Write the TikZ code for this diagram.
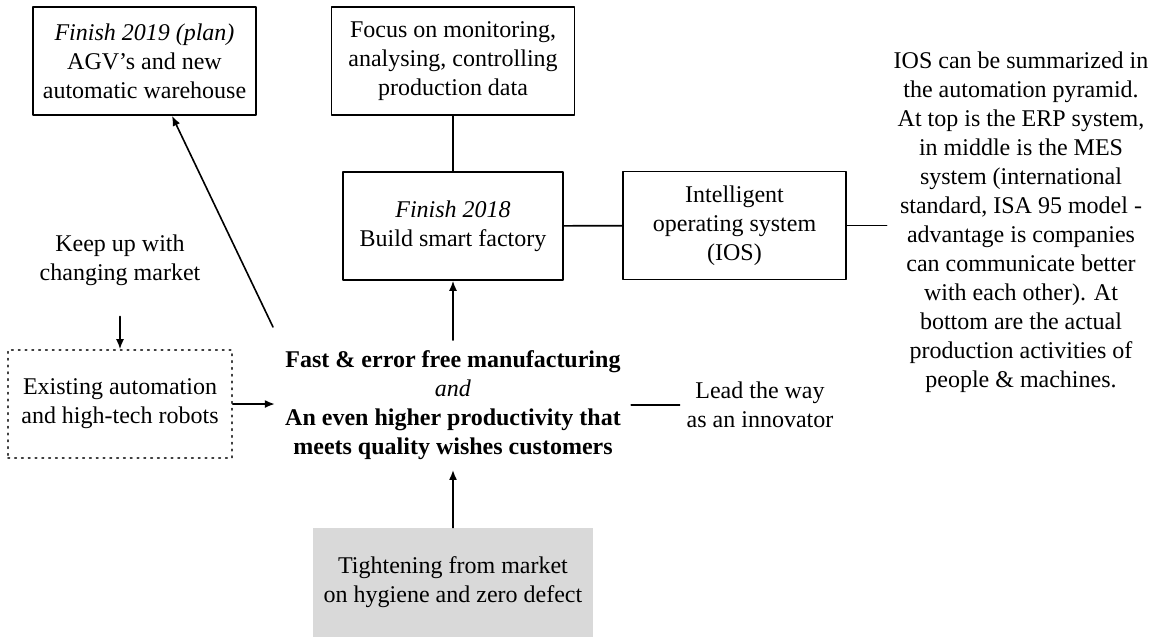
\documentclass[tikz,border=0pt]{standalone}
\usepackage{fontspec}
\setmainfont{Liberation Serif}
\usetikzlibrary{arrows.meta, calc}

\tikzset{
	box/.style={draw, line width=0.8pt, align=center, inner sep=0pt, minimum height=54pt},
	dotbox/.style={draw=black!75, line width=0.8pt, dash pattern=on 0.8pt off 2.6pt,
		align=center, inner sep=0pt, minimum width=112pt, minimum height=54pt},
	graybox/.style={fill=black!15, align=center, inner sep=0pt,
		minimum width=140pt, minimum height=54.5pt},
	plain/.style={align=center},
	link/.style={line width=0.8pt}
}

\begin{document}
\begin{tikzpicture}[x=0.5pt, y=-0.5pt, >={Latex[length=5pt,width=4pt]},
	line cap=round, line join=round, font={\fontsize{12}{14.5}\selectfont}]
	
	\useasboundingbox (0,0) rectangle (1160,639);
	
	%========================
	% Top row: plans
	%========================
	\node[box, minimum width=111.5pt] (plan) at (144.5,61)
	{\textit{Finish 2019 (plan)}\\AGV's and new\\automatic warehouse};
	\node[box, minimum width=121.5pt] (focus) at (453,61)
	{Focus on monitoring,\\analysing, controlling\\production data};
	
	%========================
	% Middle row: smart factory and IOS
	%========================
	\node[box, minimum width=110pt] (smart) at (453,226)
	{\textit{Finish 2018}\\Build smart factory};
	\node[box, minimum width=111.5pt] (ios) at (734.5,225.5)
	{Intelligent\\operating system\\(IOS)};
	\node[plain] (iosnote) at (1021,222.5)
	{IOS can be summarized in\\the automation pyramid.\\At top is the ERP system,\\
		in middle is the MES\\system (international\\standard, ISA 95 model -\\
		advantage is companies\\can communicate better\\with each other). At\\
		bottom are the actual\\production activities of\\people \& machines.};
	
	%========================
	% Left side: market and existing automation
	%========================
	\node[plain] (keep) at (120,260) {Keep up with\\changing market};
	\node[dotbox] (exist) at (120,404) {Existing automation\\and high-tech robots};
	
	%========================
	% Centre: goal, innovator, market pressure
	%========================
	\node[plain, inner sep=5pt, font={\fontsize{12}{14.5}\selectfont\bfseries}] (goal) at (453,405)
	{Fast \& error free manufacturing\\\textit{\mdseries and}\\
		An even higher productivity that\\meets quality wishes customers};
	\node[plain] (lead) at (760,405) {Lead the way\\as an innovator};
	\node[graybox] (tight) at (453,582.5)
	{Tightening from market\\on hygiene and zero defect};
	
	% connectors
	\draw[link] (focus) -- (smart);
	\draw[link] (smart) -- (ios);
	\draw[link] (ios.east) -- (ios.east -| iosnote.west);
	\draw[link,->] (goal) -- (smart);
	\draw[link,->] (tight) -- (goal);
	\draw[link,->] (exist.east) -- (exist.east -| goal.west);
	\draw[link] (goal.east) -- (goal.east -| lead.west);
	\draw[link,->,shorten <=12pt] (keep) -- (exist);
	\coordinate (rise) at (273,327);
	\draw[link,->] (rise) -- ([xshift=13.75pt]plan.south);
	
\end{tikzpicture}
\end{document}
